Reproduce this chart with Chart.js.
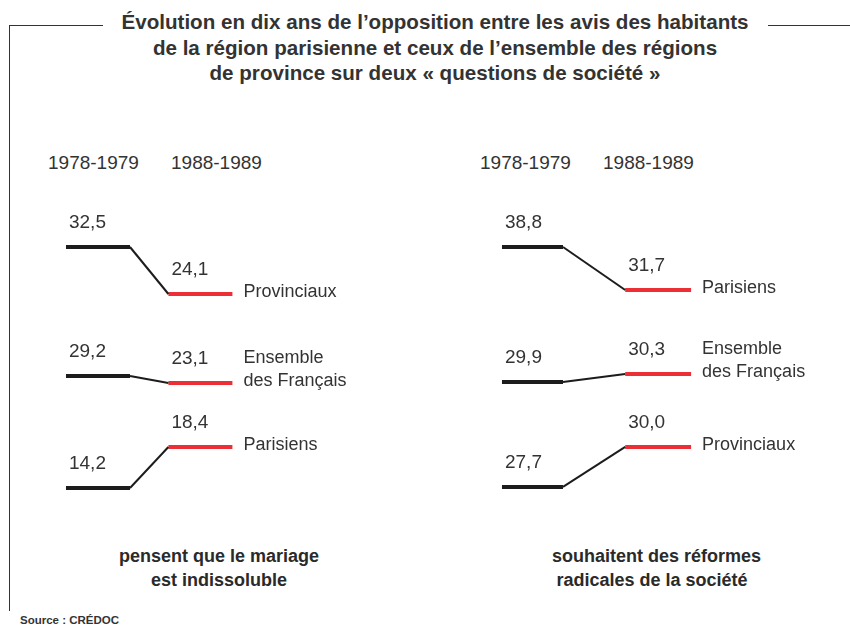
<!DOCTYPE html>
<html><head><meta charset="utf-8">
<script src="https://cdn.jsdelivr.net/npm/chart.js@4.4.1/dist/chart.umd.min.js"></script>
<style>
html,body{margin:0;padding:0;background:#fff;}
body{width:850px;height:628px;position:relative;overflow:hidden;font-family:"Liberation Sans",Arial,sans-serif;color:#333;}
.t{position:absolute;white-space:nowrap;}
#title{left:0;width:870px;top:9px;text-align:center;font-weight:bold;font-size:20.6px;line-height:25.5px;color:#333;}
.hdr{font-size:19px;color:#333;top:152px;}
.foot{font-size:18px;font-weight:bold;color:#2a2a2a;text-align:center;line-height:24px;top:544px;}
#src{left:20px;top:614px;font-size:11.5px;font-weight:bold;color:#333;}
.fl{position:absolute;background:#333;}
canvas{position:absolute;}
</style></head>
<body>
<div class="fl" style="left:9px;top:25px;width:94px;height:1.3px;"></div>
<div class="fl" style="left:768px;top:25px;width:82px;height:1.3px;"></div>
<div class="fl" style="left:9px;top:25px;width:1.3px;height:586px;"></div>
<div id="title" class="t">Évolution en dix ans de l’opposition entre les avis des habitants<br>de la région parisienne et ceux de l’ensemble des régions<br>de province sur deux « questions de société »</div>
<div class="t hdr" style="left:48px;">1978-1979</div>
<div class="t hdr" style="left:171px;">1988-1989</div>
<div class="t hdr" style="left:480px;">1978-1979</div>
<div class="t hdr" style="left:603px;">1988-1989</div>
<div class="t foot" style="left:119px;width:200px;">pensent que le mariage<br>est indissoluble</div>
<div class="t foot" style="left:552px;width:200px;">souhaitent des réformes<br>radicales de la société</div>
<div id="src" class="t">Source : CRÉDOC</div>
<canvas id="c1" width="425" height="320" style="left:0;top:200px;"></canvas>
<canvas id="c2" width="425" height="320" style="left:425px;top:200px;"></canvas>
<script>
// ---- data ----
const periods = ["1978-1979", "1988-1989"];
const leftSeries = ["Provinciaux", "Ensemble\ndes Français", "Parisiens"];
const left1978 = [32.5, 29.2, 14.2];
const left1988 = [24.1, 23.1, 18.4];
const rightSeries = ["Parisiens", "Ensemble\ndes Français", "Provinciaux"];
const right1978 = [38.8, 29.9, 27.7];
const right1988 = [31.7, 30.3, 30.0];

// ---- layout (schematic placement of each row, via scale ranges) ----
const leftLayout = {
  xs: [0, 1, 1.6, 2.6], xMin: -1.031, xMax: 5.609,
  yRanges: [[-16.29, 40.9], [-96.29, 182.57], [10.92, 43.70]]
};
const rightLayout = {
  xs: [0, 1, 2.02, 3.1], xMin: -1.262, xMax: 5.705,
  yRanges: [[-6.28, 46.56], [23.0, 39.0], [25.8, 44.2]]
};
const BLACK = "#1c1c1c", RED = "#ec2f35";
const fmt = v => v.toFixed(1).replace(".", ",");

function build(canvasId, names, v1, v2, L) {
  const datasets = [];
  const scales = {
    x: { type: "linear", min: L.xMin, max: L.xMax, display: false }
  };
  names.forEach((n, i) => {
    const ax = "y" + i;
    scales[ax] = { type: "linear", min: L.yRanges[i][0], max: L.yRanges[i][1], display: false };
    const xs = L.xs;
    datasets.push({ data: [{x: xs[0], y: v1[i]}, {x: xs[1], y: v1[i]}], yAxisID: ax,
      borderColor: BLACK, borderWidth: 4, borderCapStyle: "butt" });
    datasets.push({ data: [{x: xs[1], y: v1[i]}, {x: xs[2], y: v2[i]}], yAxisID: ax,
      borderColor: BLACK, borderWidth: 2, borderCapStyle: "butt" });
    datasets.push({ data: [{x: xs[2], y: v2[i]}, {x: xs[3], y: v2[i]}], yAxisID: ax,
      borderColor: RED, borderWidth: 4, borderCapStyle: "butt" });
  });
  const labelPlugin = {
    id: "labels",
    afterDatasetsDraw(chart) {
      const c = chart.ctx, x = chart.scales.x;
      c.save();
      c.fillStyle = "#333";
      c.textBaseline = "middle";
      c.textAlign = "left";
      names.forEach((n, i) => {
        const y = chart.scales["y" + i];
        const p1 = y.getPixelForValue(v1[i]), p2 = y.getPixelForValue(v2[i]);
        c.font = "19px 'Liberation Sans', Arial, sans-serif";
        c.fillText(fmt(v1[i]), x.getPixelForValue(L.xs[0]) + 3, p1 - 24);
        c.fillText(fmt(v2[i]), x.getPixelForValue(L.xs[2]) + 3, p2 - 24);
        c.font = "18px 'Liberation Sans', Arial, sans-serif";
        const lines = n.split("\n");
        const nx = x.getPixelForValue(L.xs[3]) + 11;
        lines.forEach((ln, k) => {
          c.fillText(ln, nx, p2 - 2 - (lines.length - 1 - k) * 22.5);
        });
      });
      c.restore();
    }
  };
  new Chart(document.getElementById(canvasId), {
    type: "line",
    data: { datasets },
    options: {
      responsive: false, animation: false,
      layout: { padding: 0 },
      elements: { point: { radius: 0 } , line: { tension: 0 } },
      plugins: { legend: { display: false }, tooltip: { enabled: false } },
      scales
    },
    plugins: [labelPlugin]
  });
}
build("c1", leftSeries, left1978, left1988, leftLayout);
build("c2", rightSeries, right1978, right1988, rightLayout);
</script>
</body></html>
